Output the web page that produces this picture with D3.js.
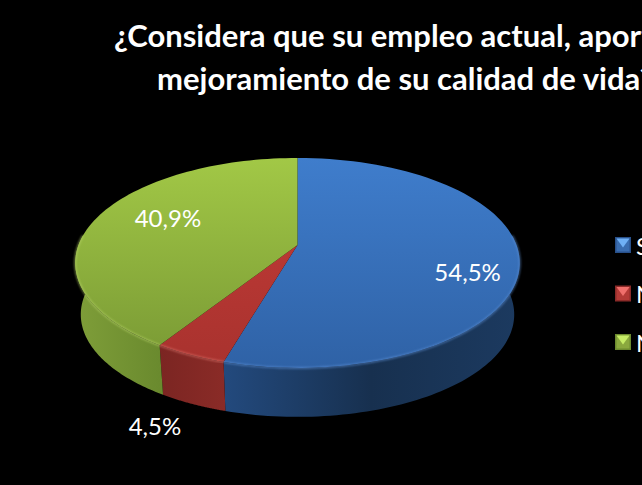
<!DOCTYPE html>
<html><head><meta charset="utf-8">
<script src="https://cdnjs.cloudflare.com/ajax/libs/d3/7.8.5/d3.min.js"></script>
<style>html,body{margin:0;padding:0;background:#000;overflow:hidden}svg{display:block}text{font-family:Lato,"Open Sans",sans-serif;fill:#fff}</style>
</head><body><div id="chart"></div>
<script>
const categories = ["Sí", "No", "No sabe"];
const values = [54.5, 4.5, 40.9];
const valueLabels = ["54,5%", "4,5%", "40,9%"];
const titleLines = ["¿Considera que su empleo actual, aporta al", "mejoramiento de su calidad de vida?"];

const topLight = ["#3f7dcc", "#c63c38", "#a2c846"];
const topDark = ["#2f62a6", "#a8322e", "#789834"];
const sideLeft = ["#234a7e", "#7b2522", "#7f9e39"];
const sideMid = ["#17304f", "#8a2b27", "#6a8a2e"];
const rimGlow = ["#5f93d8", "#e07a72", "#bcd86c"];
const bevelTop = ["#6fb0f5", "#ef6f6c", "#c6ec66"];
const bevelBase = ["#3a6db0", "#b33a37", "#8aa83e"];
const bevelLow = ["#28508a", "#8a2a28", "#6c8a2e"];

const W = 642, H = 485;
const cx = 297.5, cy = 245, A = 219, B = 101.9, k = -0.171, depth = 52, bottomScale = 0.975;

const svg = d3.select("#chart").append("svg").attr("width", W).attr("height", H);
const defs = svg.append("defs");
svg.append("rect").attr("width", W).attr("height", H).attr("fill", "#000");

const project = (a, r, level) => {
  const u = r * Math.sin(a), v = -r * Math.cos(a), d = 1 + k * v;
  const s = level ? bottomScale : 1;
  return [cx + s * A * u / d, cy + (level ? depth : 0) + s * B * v / d];
};
const line = d3.line();
const arcPts = (a0, a1, level) => d3.range(0, 81).map(i => project(a0 + (a1 - a0) * i / 80, 1, level));

const slices = d3.pie().sort(null).startAngle(0).endAngle(2 * Math.PI)(values);

categories.forEach((c, i) => {
  const t = defs.append("linearGradient").attr("id", "top" + i).attr("gradientUnits", "userSpaceOnUse")
    .attr("x1", 0).attr("y1", cy - 87).attr("x2", 0).attr("y2", cy + 123);
  t.append("stop").attr("offset", 0).attr("stop-color", topLight[i]);
  t.append("stop").attr("offset", 1).attr("stop-color", topDark[i]);
  const s = defs.append("linearGradient").attr("id", "side" + i).attr("gradientUnits", "userSpaceOnUse")
    .attr("x1", i === 0 ? 222 : i === 1 ? 158 : 75).attr("y1", 0).attr("x2", i === 0 ? 520 : i === 1 ? 225 : 160).attr("y2", 0);
  s.append("stop").attr("offset", 0).attr("stop-color", sideLeft[i]);
  s.append("stop").attr("offset", i === 0 ? .5 : 1).attr("stop-color", sideMid[i]);
  if (i === 0) s.append("stop").attr("offset", 1).attr("stop-color", "#1c3a60");
});
defs.append("filter").attr("id", "soft").attr("x", "-5%").attr("y", "-5%").attr("width", "110%").attr("height", "110%")
  .append("feGaussianBlur").attr("stdDeviation", 0.8);

const pie = svg.append("g");
// side wall: visible from the right extreme to the left extreme
const lo = Math.PI * 0.47, hi = Math.PI * 1.53;
slices.forEach((d, i) => {
  const a0 = Math.max(d.startAngle, lo), a1 = Math.min(d.endAngle, hi);
  const pts = arcPts(a0, a1, 0).concat(arcPts(a0, a1, 1).reverse());
  pie.append("path").attr("d", line(pts) + "Z").attr("fill", `url(#side${i})`);
});
// top surface
slices.forEach((d, i) => {
  const pts = [[cx, cy]].concat(arcPts(d.startAngle, d.endAngle, 0));
  pie.append("path").attr("d", line(pts) + "Z").attr("fill", `url(#top${i})`);
});
// light rim on the front edge
slices.forEach((d, i) => {
  const a0 = Math.max(d.startAngle, lo), a1 = Math.min(d.endAngle, hi);
  pie.append("path").attr("d", line(arcPts(a0, a1, 0))).attr("fill", "none")
    .attr("stroke", rimGlow[i]).attr("stroke-width", 1.6).attr("stroke-opacity", .7).attr("filter", "url(#soft)");
});

// value labels
const labelRadius = [.77, 1, .6], labelShift = [[0, 15], [-35, 71], [-7, -11]];
slices.forEach((d, i) => {
  const p = project((d.startAngle + d.endAngle) / 2, labelRadius[i], 0);
  svg.append("text").attr("x", p[0] + labelShift[i][0]).attr("y", p[1] + labelShift[i][1])
    .attr("text-anchor", "middle").attr("dominant-baseline", "central")
    .attr("font-size", 24).text(valueLabels[i]);
});

// title
svg.append("text").attr("x", 114).attr("y", 47).attr("font-size", 31).attr("font-weight", 700).text(titleLines[0]);
svg.append("text").attr("x", 157).attr("y", 90).attr("font-size", 31).attr("font-weight", 700).text(titleLines[1]);

// legend
const ly = d3.scalePoint().domain(categories).range([245, 342]);
const m = 7.5, h = 8;
const lg = svg.selectAll("g.lg").data(categories).enter().append("g").attr("class", "lg")
  .attr("transform", c => `translate(623,${ly(c)})`);
lg.append("rect").attr("x", -8).attr("y", -8).attr("width", 16).attr("height", 16).attr("fill", (c, i) => bevelLow[i]);
lg.append("rect").attr("x", -m + 1).attr("y", -m + 1).attr("width", 2 * m - 2).attr("height", 2 * m - 2).attr("fill", (c, i) => bevelBase[i]);
lg.append("path").attr("d", `M${-m + 1},${-m + 1}H${m - 1}L0,${m - 5}Z`).attr("fill", (c, i) => bevelTop[i]);
lg.append("text").attr("x", 13).attr("dominant-baseline", "central").attr("font-size", 24).text(c => c);
</script></body></html>
